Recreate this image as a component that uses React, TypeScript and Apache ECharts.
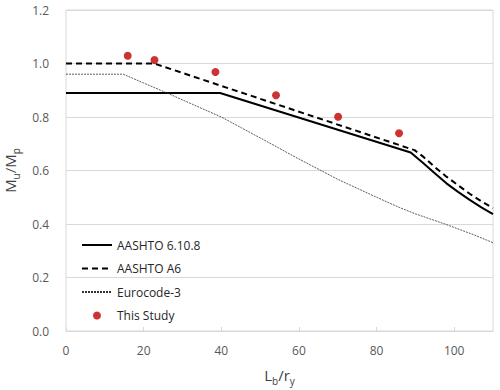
import React, { useEffect, useRef } from "react";
import * as echarts from "echarts";

const xTicksMax = 110;
const yTicks = [0, 0.2, 0.4, 0.6, 0.8, 1.0, 1.2];

const aashto6108X = [0, 39.7, 88.8, 92, 95, 98, 101, 104, 107, 110];
const aashto6108Y = [0.89, 0.89, 0.667, 0.628, 0.59, 0.552, 0.52, 0.49, 0.462, 0.437];

const aashtoA6X = [0, 22.7, 89.8, 92, 95, 98, 101, 104, 107, 110];
const aashtoA6Y = [1.0, 1.0, 0.676, 0.652, 0.613, 0.577, 0.545, 0.513, 0.485, 0.459];

const eurocodeX = [0, 14.75, 20, 26, 30, 40, 50, 60, 65.4, 70, 80, 86, 90, 97.6, 105, 110];
const eurocodeY = [0.96, 0.96, 0.927, 0.89, 0.864, 0.8, 0.722, 0.643, 0.602, 0.567, 0.5, 0.461, 0.438, 0.4, 0.36, 0.33];

const studyX = [15.9, 22.8, 38.5, 54.1, 70.1, 85.8];
const studyY = [1.029, 1.013, 0.968, 0.881, 0.801, 0.739];

const seriesNames = ["AASHTO 6.10.8", "AASHTO A6", "Eurocode-3", "This Study"];

const zip = (xs: number[], ys: number[]) => xs.map((x, i) => [x, ys[i]]);

const FONT = "'Open Sans', 'Noto Sans', sans-serif";

const nameRich = {
  a: { fontSize: 15, color: "#404040", fontFamily: FONT, verticalAlign: "bottom" },
  s: { fontSize: 10, color: "#404040", fontFamily: FONT, verticalAlign: "bottom", padding: [0, 0, -4, 0] },
};

export default function App() {
  const ref = useRef<HTMLDivElement>(null);
  useEffect(() => {
    if (!ref.current) return;
    const chart = echarts.init(ref.current, undefined, { renderer: "svg" });
    chart.setOption({
      animation: false,
      backgroundColor: "#ffffff",
      textStyle: { fontFamily: FONT },
      grid: {
        left: 66,
        right: 7,
        top: 10,
        bottom: 59,
        show: true,
        borderColor: "#d9d9d9",
        borderWidth: 1,
        containLabel: false,
        outerBoundsMode: "none",
      },
      legend: {
        orient: "vertical",
        left: 76,
        top: 234,
        itemWidth: 30,
        itemHeight: 8,
        itemGap: 11.5,
        data: [
          { name: seriesNames[0], itemStyle: { opacity: 0 } },
          { name: seriesNames[1], itemStyle: { opacity: 0 } },
          { name: seriesNames[2], itemStyle: { opacity: 0 } },
          { name: seriesNames[3] },
        ],
        textStyle: { fontFamily: FONT, fontSize: 12, color: "#262626" },
      },
      xAxis: {
        type: "value",
        min: 0,
        max: xTicksMax,
        interval: 20,
        splitLine: { show: false },
        axisLine: { show: true, lineStyle: { color: "#d9d9d9" } },
        axisTick: { show: true, inside: true, length: 4, lineStyle: { color: "#d9d9d9" } },
        axisLabel: { showMaxLabel: false, color: "#595959", fontSize: 12, margin: 13, fontFamily: FONT },
        name: "{a|L}{s|b}{a|/r}{s|y}",
        nameLocation: "middle",
        nameGap: 36,
        nameTextStyle: { rich: nameRich },
      },
      yAxis: {
        type: "value",
        min: yTicks[0],
        max: yTicks[yTicks.length - 1],
        interval: 0.2,
        axisLine: { show: false },
        axisTick: { show: false },
        splitLine: { show: true, lineStyle: { color: "#d9d9d9", width: 1 } },
        axisLabel: {
          color: "#595959",
          fontSize: 12,
          margin: 17,
          fontFamily: FONT,
          formatter: (v: number) => v.toFixed(1),
        },
        name: "{a|M}{s|u}{a|/M}{s|p}",
        nameLocation: "middle",
        nameGap: 48,
        nameTextStyle: { rich: nameRich },
      },
      series: [
        {
          name: seriesNames[0],
          type: "line",
          data: zip(aashto6108X, aashto6108Y),
          symbol: "none",
          lineStyle: { color: "#000000", width: 2, type: "solid" },
          itemStyle: { color: "#000000" },
        },
        {
          name: seriesNames[1],
          type: "line",
          data: zip(aashtoA6X, aashtoA6Y),
          symbol: "none",
          lineStyle: { color: "#000000", width: 2, type: [6, 4] },
          itemStyle: { color: "#000000" },
        },
        {
          name: seriesNames[2],
          type: "line",
          data: zip(eurocodeX, eurocodeY),
          symbol: "none",
          lineStyle: { color: "#333333", width: 0.8, type: [2, 1] },
          itemStyle: { color: "#333333" },
        },
        {
          name: seriesNames[3],
          type: "scatter",
          data: zip(studyX, studyY),
          symbol: "circle",
          symbolSize: 8,
          itemStyle: { color: "#c00000" },
        },
      ],
    });
    return () => chart.dispose();
  }, []);
  return <div ref={ref} style={{ width: 500, height: 390, position: "absolute", left: 0, top: 0 }} />;
}
